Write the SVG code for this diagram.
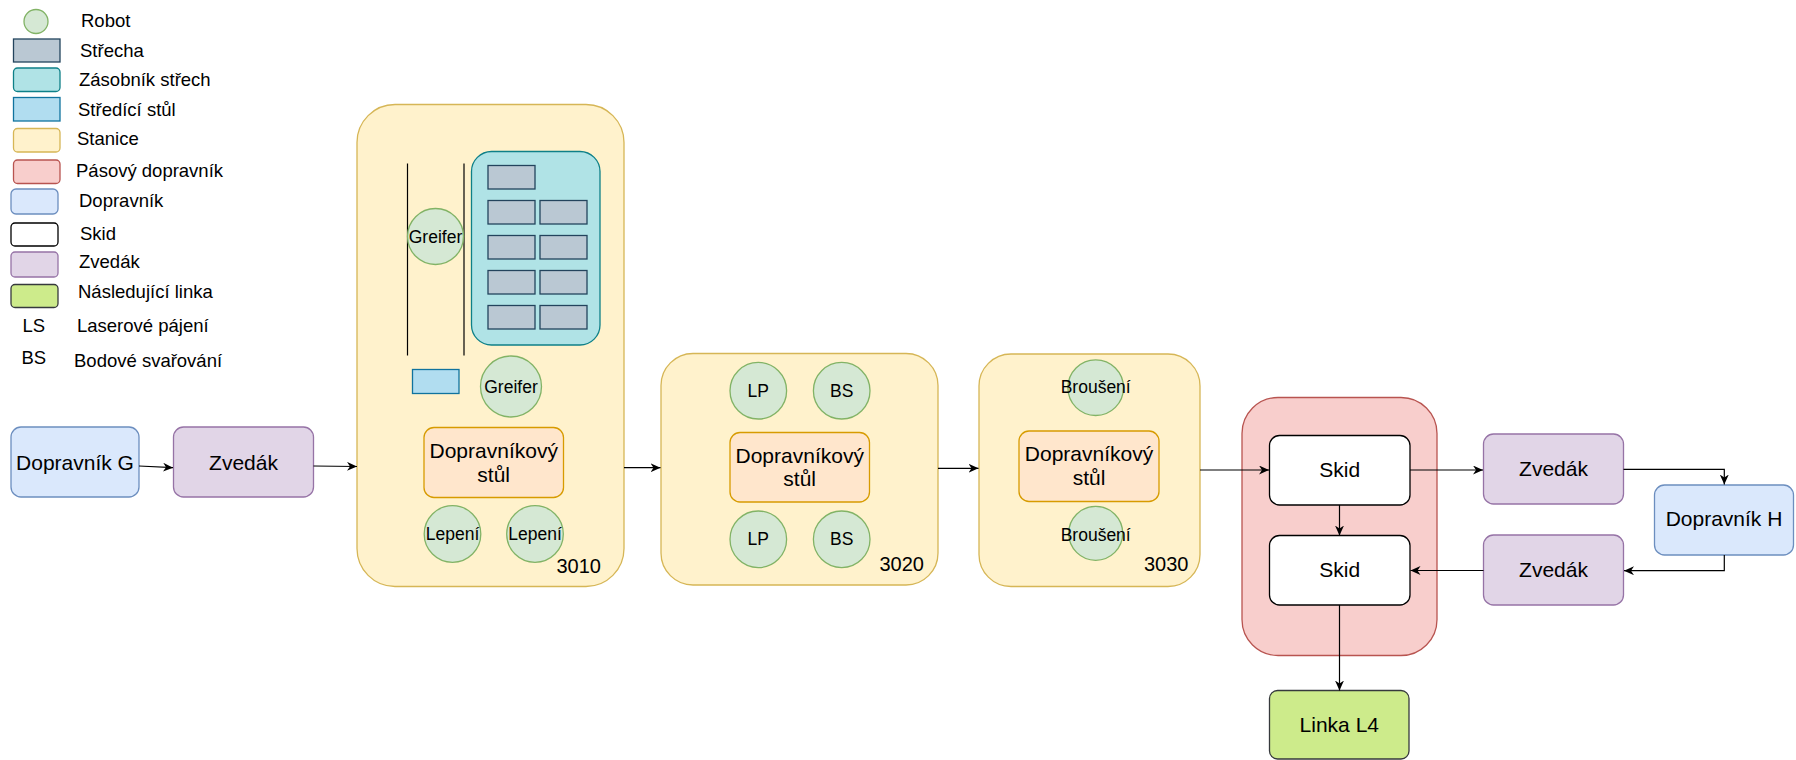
<svg xmlns="http://www.w3.org/2000/svg" width="1796" height="760" viewBox="0 0 1796 760">
  <style>
    text { font-family: "Liberation Sans", Arial, sans-serif; fill: #000; }
    .lg { font-size: 18.5px; }
    .big { font-size: 21px; text-anchor: middle; }
    .sm { font-size: 17.5px; text-anchor: middle; }
    .num { font-size: 20px; text-anchor: end; }
    .robot { fill: #d5e8d4; stroke: #82b366; stroke-width: 1.3; }
    .roof { fill: #bac8d3; stroke: #23445d; stroke-width: 1.3; }
    .store { fill: #b0e3e6; stroke: #0e8088; stroke-width: 1.3; }
    .center { fill: #b1ddf0; stroke: #10739e; stroke-width: 1.3; }
    .station { fill: #fff2cc; stroke: #d6b656; stroke-width: 1.3; }
    .belt { fill: #f8cecc; stroke: #b85450; stroke-width: 1.3; }
    .conv { fill: #dae8fc; stroke: #6c8ebf; stroke-width: 1.3; }
    .skid { fill: #ffffff; stroke: #000000; stroke-width: 1.3; }
    .lift { fill: #e1d5e7; stroke: #9673a6; stroke-width: 1.3; }
    .next { fill: #cdeb8b; stroke: #36393d; stroke-width: 1.3; }
    .table { fill: #ffe6cc; stroke: #d79b00; stroke-width: 1.3; }
    .edge { fill: none; stroke: #000; stroke-width: 1.2; marker-end: url(#arrow); }
  </style>
  <defs>
    <marker id="arrow" markerUnits="userSpaceOnUse" markerWidth="12" markerHeight="10" refX="10" refY="4.5" orient="auto">
      <path d="M0,0 L10,4.5 L0,9 L3,4.5 Z" fill="#000"/>
    </marker>
  </defs>

  <!-- Legend -->
  <g id="legend">
    <circle class="robot" cx="36" cy="21.5" r="12"/>
    <text class="lg" x="81" y="27">Robot</text>
    <rect class="roof" x="13.5" y="39" width="46.5" height="23"/>
    <text class="lg" x="80" y="57">Střecha</text>
    <rect class="store" x="13.5" y="68" width="46.5" height="23.5" rx="4"/>
    <text class="lg" x="79" y="86">Zásobník střech</text>
    <rect class="center" x="13.5" y="97.5" width="46.5" height="23.5"/>
    <text class="lg" x="78" y="116">Středící stůl</text>
    <rect class="station" x="13.5" y="128.5" width="46.5" height="23.5" rx="4"/>
    <text class="lg" x="77" y="145">Stanice</text>
    <rect class="belt" x="13.5" y="160" width="46.5" height="23.5" rx="4"/>
    <text class="lg" x="76" y="177">Pásový dopravník</text>
    <rect class="conv" x="11" y="189" width="47" height="25" rx="5"/>
    <text class="lg" x="79" y="207">Dopravník</text>
    <rect class="skid" x="11" y="223" width="47" height="23" rx="4"/>
    <text class="lg" x="80" y="240">Skid</text>
    <rect class="lift" x="11" y="252" width="47" height="25" rx="4"/>
    <text class="lg" x="79" y="268">Zvedák</text>
    <rect class="next" x="11" y="284.5" width="47" height="23" rx="4"/>
    <text class="lg" x="78" y="298">Následující linka</text>
    <text class="lg" x="22.5" y="332">LS</text>
    <text class="lg" x="77" y="332">Laserové pájení</text>
    <text class="lg" x="21.5" y="364">BS</text>
    <text class="lg" x="74" y="367">Bodové svařování</text>
  </g>

  <!-- Input side -->
  <g id="dopravnik-g">
    <rect class="conv" x="11" y="427" width="128" height="70" rx="10"/>
    <text class="big" x="75" y="469.5">Dopravník G</text>
  </g>
  <g id="zvedak-1">
    <rect class="lift" x="173.5" y="427" width="140" height="70" rx="10"/>
    <text class="big" x="243.5" y="469.5">Zvedák</text>
  </g>

  <!-- Station 3010 -->
  <g id="station-3010">
    <rect class="station" x="357" y="104.5" width="267" height="482" rx="38"/>
    <line x1="407.5" y1="163.5" x2="407.5" y2="355.5" stroke="#000" stroke-width="1.2"/>
    <line x1="464" y1="163.5" x2="464" y2="355.5" stroke="#000" stroke-width="1.2"/>
    <circle class="robot" cx="435.5" cy="236.5" r="28"/>
    <text class="sm" x="435.5" y="242.5">Greifer</text>
    <rect class="store" x="471.5" y="151.5" width="128.5" height="193.5" rx="20"/>
    <rect class="roof" x="488" y="165.5" width="47" height="23.5"/>
    <rect class="roof" x="488" y="200.5" width="47" height="23.5"/>
    <rect class="roof" x="540" y="200.5" width="47" height="23.5"/>
    <rect class="roof" x="488" y="235.5" width="47" height="23.5"/>
    <rect class="roof" x="540" y="235.5" width="47" height="23.5"/>
    <rect class="roof" x="488" y="270.5" width="47" height="23.5"/>
    <rect class="roof" x="540" y="270.5" width="47" height="23.5"/>
    <rect class="roof" x="488" y="305.5" width="47" height="23.5"/>
    <rect class="roof" x="540" y="305.5" width="47" height="23.5"/>
    <rect class="center" x="412.5" y="369.5" width="46.5" height="24"/>
    <circle class="robot" cx="511" cy="386.5" r="30.5"/>
    <text class="sm" x="511" y="392.5">Greifer</text>
    <rect class="table" x="424" y="427.5" width="139.5" height="70" rx="10"/>
    <text class="big" x="493.7" y="457.5">Dopravníkový</text>
    <text class="big" x="493.7" y="481.5">stůl</text>
    <circle class="robot" cx="452.5" cy="534" r="28.3"/>
    <text class="sm" x="452.5" y="540">Lepení</text>
    <circle class="robot" cx="535" cy="534" r="28.3"/>
    <text class="sm" x="535" y="540">Lepení</text>
    <text class="num" x="601" y="572.5">3010</text>
  </g>

  <!-- Station 3020 -->
  <g id="station-3020">
    <rect class="station" x="661" y="353.5" width="277" height="231.5" rx="32"/>
    <circle class="robot" cx="758.3" cy="390.7" r="28.3"/>
    <text class="sm" x="758.3" y="396.7">LP</text>
    <circle class="robot" cx="841.7" cy="390.7" r="28.3"/>
    <text class="sm" x="841.7" y="396.7">BS</text>
    <rect class="table" x="730" y="432.5" width="139.5" height="69.5" rx="10"/>
    <text class="big" x="799.7" y="462.5">Dopravníkový</text>
    <text class="big" x="799.7" y="486">stůl</text>
    <circle class="robot" cx="758.3" cy="539.3" r="28.3"/>
    <text class="sm" x="758.3" y="545">LP</text>
    <circle class="robot" cx="841.7" cy="539.3" r="28.3"/>
    <text class="sm" x="841.7" y="545">BS</text>
    <text class="num" x="924" y="571">3020</text>
  </g>

  <!-- Station 3030 -->
  <g id="station-3030">
    <rect class="station" x="979" y="354" width="221" height="232.5" rx="32"/>
    <circle class="robot" cx="1095.7" cy="387.7" r="27.8"/>
    <text class="sm" x="1095.7" y="393.3">Broušení</text>
    <rect class="table" x="1019" y="431" width="140" height="70.5" rx="10"/>
    <text class="big" x="1089" y="460.7">Dopravníkový</text>
    <text class="big" x="1089" y="485">stůl</text>
    <circle class="robot" cx="1095.7" cy="533.3" r="27"/>
    <text class="sm" x="1095.7" y="541">Broušení</text>
    <text class="num" x="1188.5" y="571">3030</text>
  </g>

  <!-- Belt conveyor with skids -->
  <g id="pasovy-dopravnik">
    <rect class="belt" x="1242" y="397.5" width="195" height="258" rx="36"/>
  </g>
  <g id="skid-1">
    <rect class="skid" x="1269.5" y="435.5" width="140.5" height="69.5" rx="10"/>
    <text class="big" x="1339.7" y="477.3">Skid</text>
  </g>
  <g id="skid-2">
    <rect class="skid" x="1269.5" y="535.5" width="140.5" height="69.5" rx="10"/>
    <text class="big" x="1339.7" y="577.3">Skid</text>
  </g>
  <g id="linka-l4">
    <rect class="next" x="1269.5" y="690.5" width="139.5" height="68.5" rx="8"/>
    <text class="big" x="1339.3" y="731.7">Linka L4</text>
  </g>

  <!-- Return loop -->
  <g id="zvedak-2">
    <rect class="lift" x="1483.5" y="434" width="140" height="70" rx="10"/>
    <text class="big" x="1553.5" y="476">Zvedák</text>
  </g>
  <g id="zvedak-3">
    <rect class="lift" x="1483.5" y="535" width="140" height="70" rx="10"/>
    <text class="big" x="1553.5" y="576.7">Zvedák</text>
  </g>
  <g id="dopravnik-h">
    <rect class="conv" x="1654.5" y="485" width="139" height="70" rx="10"/>
    <text class="big" x="1724" y="526">Dopravník H</text>
  </g>

  <!-- Connectors -->
  <g id="connectors">
    <path class="edge" d="M139,466 L173,467.7"/>
    <path class="edge" d="M313.5,466 L357,466.5"/>
    <path class="edge" d="M624,467.7 L660.5,467.7"/>
    <path class="edge" d="M938,468.3 L978.5,468.3"/>
    <path class="edge" d="M1200,470 L1269,470"/>
    <path class="edge" d="M1339.5,505 L1339.5,535.5"/>
    <path class="edge" d="M1339.5,605 L1339.5,690.5"/>
    <path class="edge" d="M1410,470 L1483,470"/>
    <path class="edge" d="M1623.5,469.3 L1724.3,469.3 L1724.3,484.5"/>
    <path class="edge" d="M1724.3,555 L1724.3,570.7 L1624,570.7"/>
    <path class="edge" d="M1483.5,570.5 L1410.5,570.5"/>
  </g>
</svg>
